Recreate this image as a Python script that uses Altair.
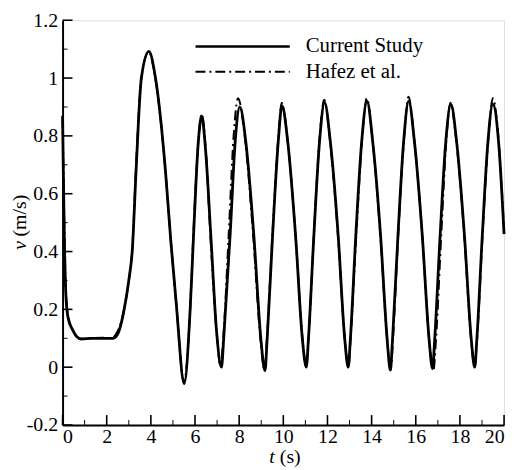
import altair as alt
import pandas as pd

# ---- data ----
cs_t = [0.0, 0.03, 0.08, 0.15, 0.25, 0.45, 0.65, 0.85, 1.3, 1.8, 2.3, 2.5, 2.65, 2.79, 3.0, 3.16,
        3.33, 3.57, 3.91, 4.21, 4.66, 4.9, 5.15, 5.51, 5.78, 5.93, 6.15, 6.3, 6.48, 6.72, 6.98,
        7.2, 7.3, 7.6, 7.82, 8.03, 8.3, 8.67, 8.98, 9.17, 9.27, 9.51, 9.77, 9.94, 10.2, 10.56,
        10.86, 11.04, 11.14, 11.38, 11.64, 11.87, 12.13, 12.49, 12.78, 12.94, 13.04, 13.28,
        13.55, 13.79, 14.05, 14.41, 14.7, 14.85, 14.95, 15.19, 15.45, 15.68, 15.94, 16.3, 16.6,
        16.76, 16.86, 17.1, 17.36, 17.59, 17.85, 18.21, 18.51, 18.67, 18.77, 19.01, 19.27, 19.49,
        19.75, 20.0]
cs_v = [0.87, 0.70, 0.45, 0.25, 0.17, 0.13, 0.105, 0.097, 0.1, 0.1, 0.1, 0.115, 0.15, 0.2, 0.3, 0.406,
        0.68, 1.0, 1.092, 1.0, 0.68, 0.44, 0.22, -0.057, 0.2, 0.45, 0.78, 0.869, 0.75, 0.45, 0.12,
        0.0, 0.1, 0.47, 0.78, 0.90, 0.78, 0.45, 0.1, -0.012, 0.1, 0.45, 0.78, 0.905, 0.78, 0.45,
        0.1, 0.0, 0.1, 0.45, 0.78, 0.915, 0.78, 0.45, 0.1, 0.0, 0.1, 0.45,
        0.78, 0.92, 0.78, 0.45, 0.1, -0.01, 0.1, 0.45, 0.78, 0.92, 0.78, 0.45, 0.1,
        -0.005, 0.1, 0.45, 0.78, 0.91, 0.78, 0.45, 0.1, 0.0, 0.1, 0.45, 0.78, 0.91,
        0.78, 0.46]

hz_t = [0.0, 0.04, 0.09, 0.15, 0.25, 0.45, 0.65, 0.9, 1.3, 1.8, 2.2, 2.45, 2.65, 2.8, 3.0, 3.16,
        3.32, 3.57, 3.9, 4.2, 4.66, 4.9, 5.15, 5.5, 5.78, 5.92, 6.15, 6.3, 6.48, 6.7, 6.98,
        7.15, 7.28, 7.52, 7.75, 7.95, 8.25, 8.64, 8.96, 9.15, 9.26, 9.5, 9.76, 9.93, 10.2, 10.56,
        10.87, 11.04, 11.14, 11.38, 11.65, 11.85, 12.12, 12.48, 12.78, 12.95, 13.05, 13.3,
        13.58, 13.78, 14.05, 14.4, 14.7, 14.86, 14.97, 15.2, 15.48, 15.67, 15.94, 16.3, 16.6,
        16.8, 16.92, 17.15, 17.4, 17.57, 17.84, 18.2, 18.5, 18.67, 18.78, 19.02, 19.3, 19.49,
        19.75, 20.0]
hz_v = [0.86, 0.68, 0.45, 0.26, 0.18, 0.13, 0.105, 0.098, 0.1, 0.102, 0.1, 0.118, 0.155, 0.205, 0.3, 0.41,
        0.68, 1.0, 1.09, 1.0, 0.68, 0.44, 0.22, -0.05, 0.2, 0.45, 0.78, 0.875, 0.76, 0.45, 0.12,
        0.005, 0.1, 0.45, 0.8, 0.93, 0.8, 0.45, 0.1, -0.01, 0.1, 0.45, 0.78, 0.915, 0.78, 0.45,
        0.1, 0.0, 0.1, 0.45, 0.8, 0.925, 0.78, 0.45, 0.1, 0.0, 0.1, 0.45,
        0.8, 0.93, 0.78, 0.45, 0.1, -0.01, 0.1, 0.45, 0.8, 0.935, 0.78, 0.45, 0.1,
        -0.01, 0.1, 0.45, 0.8, 0.915, 0.78, 0.45, 0.1, 0.0, 0.1, 0.45, 0.8, 0.93,
        0.79, 0.47]

x_major = [0, 2, 4, 6, 8, 10, 12, 14, 16, 18, 20]
x_minor = [1, 3, 5, 7, 9, 11, 13, 15, 17, 19]
y_major = [-0.2, 0, 0.2, 0.4, 0.6, 0.8, 1, 1.2]
y_minor = [-0.1, 0.1, 0.3, 0.5, 0.7, 0.9, 1.1]
series = ["Current Study", "Hafez et al."]

FONT = "Liberation Serif, Times New Roman, serif"
FS = 20
FL = 21
W, H = 445, 408

cs = pd.DataFrame({"t": cs_t, "v": cs_v})
hz = pd.DataFrame({"t": hz_t, "v": hz_v})

xs = alt.Scale(domain=[0, 20], nice=False, zero=False)
ys = alt.Scale(domain=[-0.2, 1.2], nice=False, zero=False)
xax = alt.Axis(values=x_major, title=None, ticks=False, tickSize=0, grid=False,
               labelFont=FONT, labelFontSize=FS, labelColor="black", labelPadding=2,
               domainColor="black", domainWidth=2)
yax = alt.Axis(values=y_major, title=None, ticks=False, tickSize=0, grid=False,
               labelFont=FONT, labelFontSize=FS, labelColor="black", labelPadding=5,
               domainColor="black", domainWidth=2,
               labelExpr="replace(format(datum.value, '~g'), '\u2212', '-')")

X = alt.X("t:Q", scale=xs, axis=xax)
Y = alt.Y("v:Q", scale=ys, axis=yax)

line_cs = alt.Chart(cs).mark_line(color="black", strokeWidth=2.8, interpolate="monotone").encode(x=X, y=Y)
line_hz = alt.Chart(hz).mark_line(color="black", strokeWidth=2, strokeDash=[10, 4, 2, 4],
                                  interpolate="monotone").encode(x=X, y=Y)

# inward ticks
ytm = alt.Chart(pd.DataFrame({"v": y_major})).mark_rule(color="black", strokeWidth=1.6).encode(
    y=Y, x=alt.value(0), x2=alt.value(10))
ytn = alt.Chart(pd.DataFrame({"v": y_minor})).mark_rule(color="black", strokeWidth=1).encode(
    y=Y, x=alt.value(0), x2=alt.value(5))
xtm = alt.Chart(pd.DataFrame({"t": x_major})).mark_rule(color="black", strokeWidth=1.6).encode(
    x=X, y=alt.value(H), y2=alt.value(H - 10))
xtn = alt.Chart(pd.DataFrame({"t": x_minor})).mark_rule(color="black", strokeWidth=1).encode(
    x=X, y=alt.value(H), y2=alt.value(H - 5))

# legend
leg1 = alt.Chart(pd.DataFrame({"s": [series[0]]})).mark_rule(color="black", strokeWidth=2.6).encode(
    x=alt.value(134), x2=alt.value(229), y=alt.value(26.5))
leg2 = alt.Chart(pd.DataFrame({"s": [series[1]]})).mark_rule(color="black", strokeWidth=2,
                                                             strokeDash=[10, 4, 2, 4]).encode(
    x=alt.value(134), x2=alt.value(229), y=alt.value(52))
legt1 = alt.Chart(pd.DataFrame({"s": [series[0]]})).mark_text(
    font=FONT, fontSize=FL, align="left", baseline="middle", color="black").encode(
    text="s:N", x=alt.value(245), y=alt.value(26))
legt2 = alt.Chart(pd.DataFrame({"s": [series[1]]})).mark_text(
    font=FONT, fontSize=FL, align="left", baseline="middle", color="black").encode(
    text="s:N", x=alt.value(245), y=alt.value(52))

# axis titles
def txt(s, x, y, italic=False, angle=0):
    kw = dict(font=FONT, fontSize=FS, align="center", baseline="middle", color="black")
    if italic:
        kw["fontStyle"] = "italic"
    if angle:
        kw["angle"] = angle
    return alt.Chart(pd.DataFrame({"s": [s]})).mark_text(**kw).encode(
        text="s:N", x=alt.value(x), y=alt.value(y))

tx1 = txt("t", 211, 440, italic=True)
tx2 = txt("(s)", 229.5, 440)
ty1 = txt("v", -43, 227, italic=True, angle=270)
ty2 = txt("(m/s)", -43, 197, angle=270)

chart = alt.layer(line_cs, line_hz, ytm, ytn, xtm, xtn, leg1, leg2, legt1, legt2,
                  tx1, tx2, ty1, ty2).properties(
    width=W, height=H, autosize="none",
    padding={"left": 55, "top": 10.5, "right": 8, "bottom": 43},
).configure_view(strokeWidth=0).configure(background="white")

chart.save("out.html", embed_options={"renderer": "svg", "actions": False})
